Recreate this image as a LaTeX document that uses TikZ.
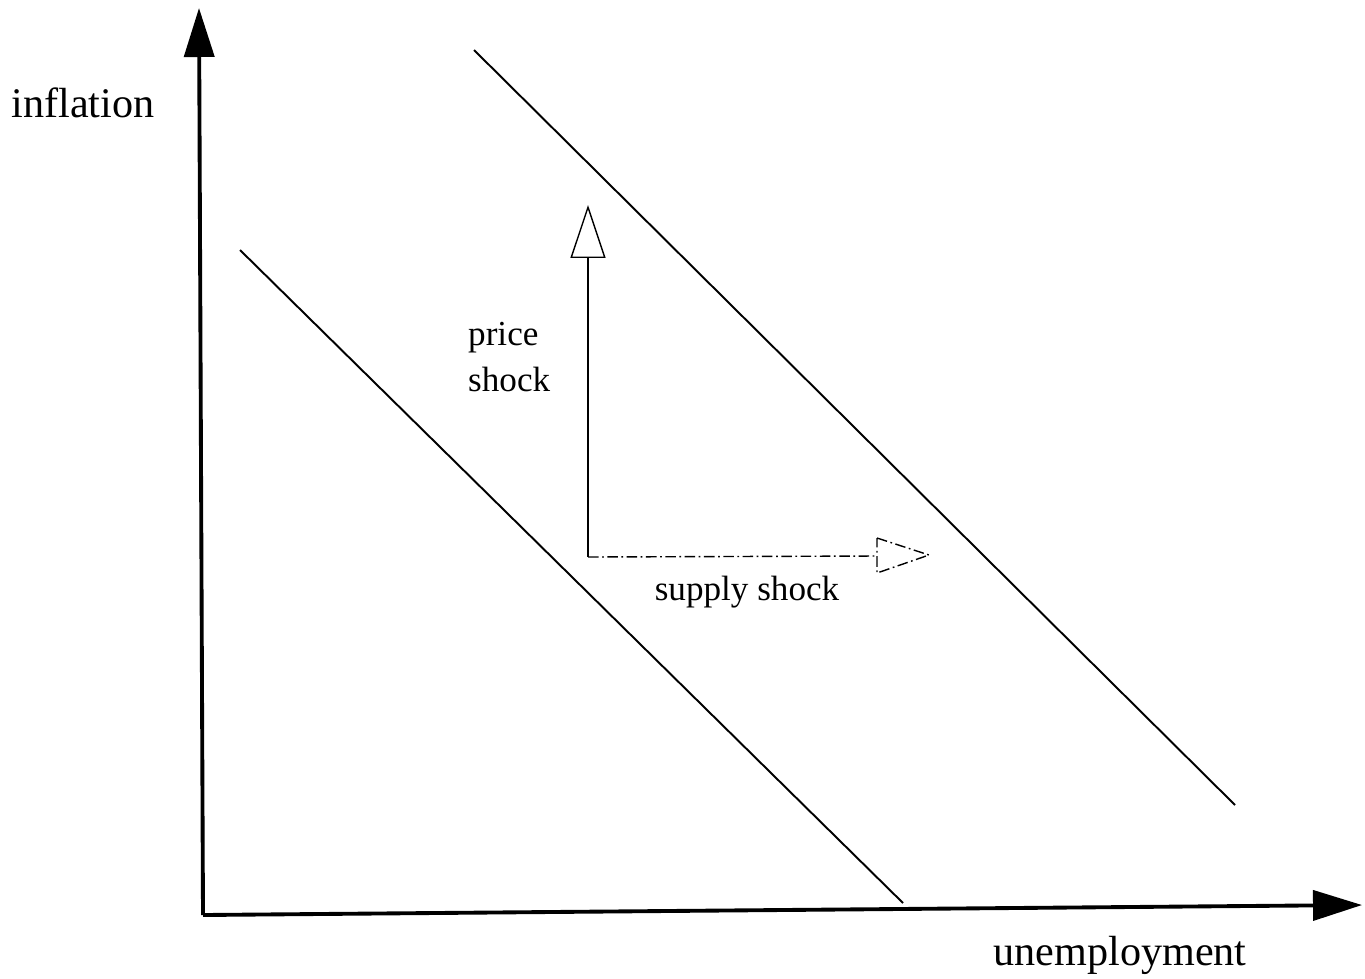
\documentclass[tikz,border=0pt]{standalone}
\usepackage{fontspec}
\setmainfont{Liberation Serif}
\usetikzlibrary{arrows.meta}
\begin{document}
\begin{tikzpicture}[x=0.02cm, y=-0.02cm, >=Triangle,
    axis/.style={line width=2.2pt, -{Triangle[length=0.98cm, width=0.6cm]}},
    curve/.style={line width=1.1pt},
    shock/.style={line width=0.8pt},
    dotdash/.style={dash pattern=on 6pt off 2pt on 1pt off 2pt},
    lab/.style={font=\fontsize{24}{28}\selectfont},
    smalllab/.style={font=\fontsize{20}{26}\selectfont, align=left}]
  \useasboundingbox (0,0) rectangle (1365,978);
  % axes
  \coordinate (origin) at (203,915);
  \coordinate (ytip) at (199,8);
  \coordinate (xtip) at (1362,905);
  \draw[axis] (origin) -- (ytip);
  \draw[axis] (origin) -- (xtip);
  \node[lab] (infl) at (83,103) {inflation};
  \node[lab] (unemp) at (1120,955) {unemployment};
  % the two curves
  \coordinate (lowA) at (240,250);
  \coordinate (lowB) at (903,903);
  \coordinate (highA) at (474,50);
  \coordinate (highB) at (1235,805);
  \draw[curve] (lowA) -- (lowB);
  \draw[curve] (highA) -- (highB);
  % shocks
  \coordinate (corner) at (588,557);
  \coordinate (ptip) at (588,205);
  \coordinate (sbase) at (877,556);
  \coordinate (stip) at (929,555);
  \draw[shock, -{Triangle[open, length=1.06cm, width=0.7cm]}] (corner) -- (ptip);
  \draw[shock, dotdash] (corner) -- (sbase);
  \draw[shock, dotdash] (877,538) -- (stip) -- (877,573) -- cycle;
  \node[smalllab, anchor=west] (price) at (462,357) {price\\shock};
  \node[smalllab] (supply) at (747,592) {supply shock};
\end{tikzpicture}
\end{document}
